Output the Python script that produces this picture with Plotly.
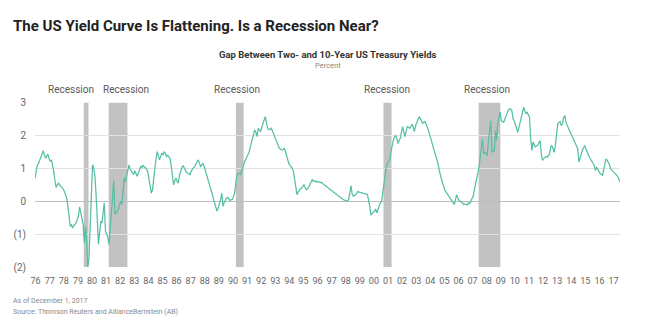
import pandas as pd
import plotly.graph_objects as go

# Monthly gap between 10-year and 2-year US Treasury yields (percentage points), Jun 1976 - Dec 2017
spread_by_year = {
    1976: [0.70, 0.95, 1.10, 1.15, 1.26, 1.35, 1.45],  # Jun-Dec
    1977: [1.54, 1.40, 1.31, 1.38, 1.43, 1.30, 1.21, 1.26, 1.10, 0.90, 0.62, 0.42],
    1978: [0.50, 0.55, 0.50, 0.46, 0.42, 0.38, 0.30, 0.20, 0.10, -0.15, -0.45, -0.76],
    1979: [-0.72, -0.81, -0.75, -0.70, -0.66, -0.55, -0.45, -0.17, -0.35, -0.55, -0.70, -1.26],
    1980: [-0.76, -1.30, -2.00, -1.71, -0.60, 0.71, 1.11, 1.01, 0.75, 0.20, -0.50, -1.31],
    1981: [-0.95, -0.60, -0.66, -0.35, -0.05, -0.91, -1.01, -1.10, -1.31, -0.80, -0.30, 0.20],
    1982: [0.63, -0.40, -0.35, -0.30, -0.25, -0.10, 0.00, -0.10, 0.45, 0.71, 0.60, 0.81],
    1983: [0.95, 1.11, 0.98, 0.91, 0.85, 0.81, 0.93, 0.85, 0.76, 0.85, 0.95, 1.06],
    1984: [1.02, 1.09, 1.05, 1.01, 0.98, 0.89, 0.65, 0.40, 0.25, 0.35, 0.71, 1.05],
    1985: [1.30, 1.51, 1.40, 1.26, 1.35, 1.46, 1.42, 1.51, 1.45, 1.36, 1.40, 1.36],
    1986: [1.30, 1.06, 0.80, 0.50, 0.62, 0.71, 0.60, 0.55, 0.80, 0.96, 1.02, 1.09],
    1987: [1.00, 0.91, 0.88, 0.86, 0.83, 0.81, 0.92, 0.99, 1.02, 1.06, 1.15, 1.20],
    1988: [1.26, 1.15, 1.06, 1.10, 1.16, 1.06, 0.95, 0.82, 0.71, 0.60, 0.48, 0.35],
    1989: [0.20, 0.05, -0.05, -0.18, -0.30, -0.20, -0.10, 0.05, 0.25, -0.15, -0.05, 0.05],
    1990: [0.10, 0.12, 0.05, 0.02, 0.05, 0.05, 0.15, 0.25, 0.55, 0.81, 0.86, 0.84],
    1991: [0.81, 0.95, 1.01, 1.16, 1.25, 1.36, 1.40, 1.46, 1.60, 1.71, 1.85, 1.97],
    1992: [2.17, 2.10, 1.97, 2.22, 2.15, 2.12, 2.25, 2.37, 2.45, 2.57, 2.40, 2.22],
    1993: [2.17, 2.20, 2.22, 2.15, 2.07, 2.00, 1.90, 1.81, 1.70, 1.61, 1.58, 1.56],
    1994: [1.56, 1.61, 1.55, 1.41, 1.30, 1.16, 1.10, 1.06, 1.00, 0.91, 0.70, 0.50],
    1995: [0.20, 0.28, 0.35, 0.38, 0.40, 0.45, 0.50, 0.42, 0.35, 0.38, 0.42, 0.50],
    1996: [0.60, 0.66, 0.62, 0.60, 0.62, 0.58, 0.60, 0.58, 0.56, 0.58, 0.52, 0.50],
    1997: [0.48, 0.45, 0.43, 0.40, 0.38, 0.35, 0.32, 0.30, 0.26, 0.22, 0.20, 0.17],
    1998: [0.15, 0.12, 0.08, 0.06, 0.04, 0.02, 0.01, 0.00, 0.05, 0.25, 0.48, 0.22],
    1999: [0.15, 0.18, 0.20, 0.25, 0.30, 0.28, 0.27, 0.28, 0.27, 0.26, 0.25, 0.22],
    2000: [0.20, 0.05, -0.15, -0.42, -0.38, -0.35, -0.30, -0.25, -0.35, -0.25, -0.10, -0.05],
    2001: [0.00, 0.30, 0.50, 0.86, 1.00, 1.16, 1.20, 1.26, 1.50, 1.71, 1.85, 1.97],
    2002: [2.00, 1.90, 1.76, 1.85, 1.92, 2.10, 2.27, 2.10, 1.97, 2.15, 2.27, 2.25],
    2003: [2.22, 2.28, 2.34, 2.25, 2.12, 2.30, 2.40, 2.50, 2.57, 2.52, 2.45, 2.37],
    2004: [2.40, 2.42, 2.35, 2.27, 2.15, 2.02, 1.90, 1.75, 1.61, 1.50, 1.38, 1.26],
    2005: [1.15, 0.95, 0.81, 0.65, 0.55, 0.45, 0.32, 0.28, 0.22, 0.20, 0.12, 0.05],
    2006: [0.02, -0.05, -0.10, 0.05, 0.20, 0.10, 0.02, 0.00, -0.02, -0.05, -0.10, -0.08],
    2007: [-0.10, -0.12, -0.05, -0.07, 0.00, 0.08, 0.15, 0.33, 0.50, 0.64, 0.85, 1.04],
    2008: [1.34, 1.60, 1.90, 1.44, 1.49, 1.45, 1.39, 1.85, 2.10, 2.45, 1.49, 1.52],
    2009: [1.55, 2.15, 1.85, 2.40, 2.55, 2.71, 2.45, 2.42, 2.40, 2.50, 2.61, 2.70],
    2010: [2.78, 2.81, 2.81, 2.75, 2.51, 2.45, 2.35, 2.20, 2.10, 2.25, 2.40, 2.60],
    2011: [2.75, 2.86, 2.75, 2.66, 2.71, 2.60, 2.56, 1.90, 1.55, 1.80, 1.70, 1.65],
    2012: [1.68, 1.70, 1.78, 1.85, 1.45, 1.24, 1.30, 1.34, 1.36, 1.34, 1.40, 1.44],
    2013: [1.65, 1.70, 1.60, 1.49, 1.70, 1.95, 2.35, 2.40, 2.42, 2.30, 2.35, 2.55],
    2014: [2.61, 2.40, 2.30, 2.25, 2.15, 2.08, 2.00, 1.92, 1.85, 1.75, 1.65, 1.60],
    2015: [1.19, 1.34, 1.40, 1.55, 1.62, 1.70, 1.60, 1.49, 1.42, 1.34, 1.28, 1.19],
    2016: [1.15, 1.09, 0.94, 1.04, 0.97, 0.89, 0.85, 0.82, 0.79, 0.94, 1.15, 1.29],
    2017: [1.25, 1.19, 1.12, 0.99, 0.94, 0.89, 0.87, 0.84, 0.80, 0.76, 0.68, 0.59],
}

# Recession periods shaded on the chart
recession_starts = ["1979-12-01", "1981-09-05", "1990-09-15", "2001-03-05", "2007-12-05"]
recession_ends = ["1980-04-01", "1983-01-05", "1991-04-05", "2001-10-01", "2009-06-20"]
recession_label_dates = ["1979-01-10", "1982-12-05", "1990-10-15", "2001-05-30", "2008-07-20"]

tick_years = list(range(1976, 2018))
tick_labels = [f"{y % 100:02d}" for y in tick_years]
y_ticks = [-2, -1, 0, 1, 2, 3]
y_tick_labels = ["(2)", "(1)", "0", "1", "2", "3"]

dates, values = [], []
for year, months in spread_by_year.items():
    first_month = 13 - len(months)
    for i, v in enumerate(months):
        dates.append(pd.Timestamp(year=year, month=first_month + i, day=15))
        values.append(v)

LINE = "#55bfa5"
BAR = "#c2c2c2"
TXT = "#5a5a5a"

fig = go.Figure()
fig.add_trace(go.Scatter(x=dates, y=values, mode="lines",
                         line=dict(color=LINE, width=1.25), hoverinfo="x+y",
                         showlegend=False))

for s, e in zip(recession_starts, recession_ends):
    fig.add_shape(type="rect", xref="x", yref="y", x0=s, x1=e, y0=-2, y1=3,
                  fillcolor=BAR, line=dict(width=0), layer="below")

for d in recession_label_dates:
    fig.add_annotation(x=d, xref="x", y=1.078, yref="paper", text="Recession",
                       showarrow=False, xanchor="center", yanchor="middle",
                       font=dict(family="Roboto", size=10, color=TXT))

fig.add_annotation(x=0.5, xref="paper", y=1.289, yref="paper",
                   text="<b>Gap Between Two- and 10-Year US Treasury Yields</b>",
                   showarrow=False, xanchor="center", yanchor="middle",
                   font=dict(family="Roboto", size=9.5, color="#333333"))
fig.add_annotation(x=0.5, xref="paper", y=1.217, yref="paper", text="Percent",
                   showarrow=False, xanchor="center", yanchor="middle",
                   font=dict(family="Roboto", size=7.5, color="#888888"))

fig.add_annotation(x=-0.041, xref="paper", y=-0.199, yref="paper",
                   text="As of December 1, 2017", showarrow=False,
                   xanchor="left", yanchor="middle",
                   font=dict(family="Roboto", size=7, color="#888888"))
fig.add_annotation(x=-0.041, xref="paper", y=-0.265, yref="paper",
                   text="Source: Thomson Reuters and AllianceBernstein (AB)",
                   showarrow=False, xanchor="left", yanchor="middle",
                   font=dict(family="Roboto", size=7, color="#888888"))

fig.update_layout(
    width=655, height=325,
    margin=dict(l=35, r=35, t=102, b=57),
    paper_bgcolor="white", plot_bgcolor="white",
    title=dict(text="<b>The US Yield Curve Is Flattening. Is a Recession Near?</b>",
               xref="container", x=13 / 655, xanchor="left",
               yref="container", y=1 - 26 / 325, yanchor="middle",
               font=dict(family="Liberation Sans Narrow, Roboto", size=15, color="#222222")),
    xaxis=dict(type="date", range=["1976-06-15", "2017-12-15"],
               tickvals=[f"{y}-07-01" for y in tick_years], ticktext=tick_labels,
               showgrid=False, zeroline=False, showline=False, ticks="",
               ticklabelstandoff=6,
               tickfont=dict(family="Roboto", size=9, color="#666666")),
    yaxis=dict(range=[-2.03, 3.02], tickvals=y_ticks, ticktext=y_tick_labels,
               showgrid=True, gridcolor="#e2e2e2", gridwidth=1,
               zeroline=True, zerolinecolor="#bdbdbd", zerolinewidth=1,
               showline=False, ticks="", ticklabelstandoff=8,
               tickfont=dict(family="Roboto", size=10, color="#666666")),
)

fig.write_html("out.html")
